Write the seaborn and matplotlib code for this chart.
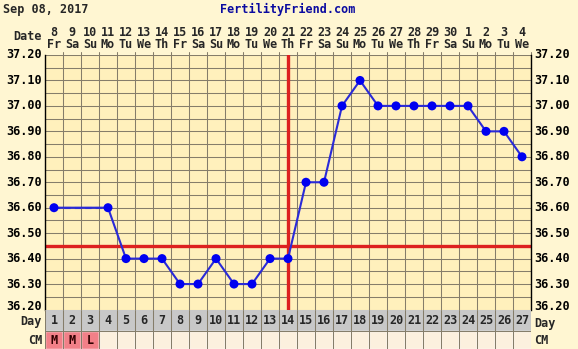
import numpy as np
import pandas as pd
import matplotlib
matplotlib.use("Agg")
import matplotlib.pyplot as plt
import seaborn as sns

# ---------------- data ----------------
cycle_days = list(range(1, 28))
dates = [8, 9, 10, 11, 12, 13, 14, 15, 16, 17, 18, 19, 20, 21, 22, 23, 24, 25, 26, 27, 28, 29, 30, 1, 2, 3, 4]
weekdays = ["Fr", "Sa", "Su", "Mo", "Tu", "We", "Th"] * 3 + ["Fr", "Sa", "Su", "Mo", "Tu", "We"]
temps = [36.60, np.nan, np.nan, 36.60, 36.40, 36.40, 36.40, 36.30, 36.30, 36.40,
         36.30, 36.30, 36.40, 36.40, 36.70, 36.70, 37.00, 37.10, 37.00, 37.00,
         37.00, 37.00, 37.00, 37.00, 36.90, 36.90, 36.80]
cm_labels = ["M", "M", "L"] + [""] * 24
coverline = 36.45
ovulation_day = 14
y_ticks = [36.20, 36.30, 36.40, 36.50, 36.60, 36.70, 36.80, 36.90, 37.00, 37.10, 37.20]
title_date = "Sep 08, 2017"
site = "FertilityFriend.com"

df = pd.DataFrame({"day": cycle_days, "temp": temps})

# ---------------- style ----------------
sns.set_theme(style="white")
plt.rcParams["font.family"] = ["DejaVu Sans Mono"]
FS = 8.5
BG = "#FFF6D2"
PLOT_BG = "#FFF0BC"
GRID = "#857D6A"
W, H = 578, 349

fig = plt.figure(figsize=(W / 100, H / 100), dpi=100)
fig.patch.set_facecolor(BG)

def px_ax(x0, y0, x1, y1):
    return fig.add_axes([x0 / W, 1 - y1 / H, (x1 - x0) / W, (y1 - y0) / H])

L, R, T, B = 45, 531, 55, 309.5
ax = px_ax(L, T, R, B)
ax.set_facecolor(PLOT_BG)
ax.set_xlim(0.5, 27.5)
ax.set_ylim(36.20, 37.20)

# grid
for k in range(28):
    ax.axvline(0.5 + k, color=GRID, lw=0.75, zorder=1)
for v in np.arange(36.20, 37.2001, 0.05):
    ax.axhline(v, color=GRID, lw=0.75, zorder=1)

# coverline and ovulation line
ax.axhline(coverline, color="#DD2020", lw=2.4, zorder=2)
ax.axvline(ovulation_day, color="#DD2020", lw=2.4, zorder=2)

# temperature line
sns.lineplot(data=df, x="day", y="temp", ax=ax, color="#2A2AD8", lw=1.5, zorder=3)
dashed = df.dropna().iloc[:2]
sns.lineplot(data=dashed, x="day", y="temp", ax=ax, color="#2A2AD8", lw=1.5,
             linestyle=(0, (3, 2)), zorder=3)
sns.scatterplot(data=df.dropna(), x="day", y="temp", ax=ax, color="#0000F0",
                s=42, edgecolor="none", zorder=4)

ax.set_xlabel("")
ax.set_ylabel("")
ax.set_xticks([])
ax.set_yticks([])
for s in ax.spines.values():
    s.set_visible(False)
for side in ("left", "right"):
    ax.spines[side].set_visible(True)
    ax.spines[side].set_color("black")
    ax.spines[side].set_linewidth(1.0)

# y labels on both sides
ytr = ax.get_yaxis_transform()
span = B - T
for v in y_ticks:
    off = 0.0
    if abs(v - 36.20) < 1e-6:
        off = 3.5 / span * 1.0  # nudge bottom label above the Day row
    yv = v + off * (37.20 - 36.20)
    ax.text(-0.006, yv, f"{v:.2f}", transform=ytr, ha="right",
            va="center", fontsize=FS, fontweight="bold", color="black")
    ax.text(1.006, yv, f"{v:.2f}", transform=ytr, ha="left",
            va="center", fontsize=FS, fontweight="bold", color="black")

# header rows (dates and weekdays)
xtr = ax.get_xaxis_transform()
for d, dt, wd in zip(cycle_days, dates, weekdays):
    ax.text(d, 1.0 + 22 / span, str(dt), transform=xtr,
            ha="center", va="center", fontsize=FS, fontweight="bold")
    ax.text(d, 1.0 + 10 / span, wd, transform=xtr,
            ha="center", va="center", fontsize=FS, fontweight="bold")
    ax.plot([d + 0.5, d + 0.5], [1.0, 1.0 + 3 / span], color=GRID, lw=0.75,
            transform=xtr, clip_on=False)
fig.text(42 / W, 1 - 37 / H, "Date", ha="right", va="center", fontsize=FS, fontweight="bold")
fig.text(3 / W, 1 - 9 / H, title_date, ha="left", va="center", fontsize=FS, fontweight="bold")
fig.text(288 / W, 1 - 9 / H, site, ha="center", va="center", fontsize=FS,
         fontweight="bold", color="#0A0AA0")

# bottom rows: Day and CM
ax2 = px_ax(L, B, R, H)
ax2.set_xlim(0.5, 27.5)
ax2.set_ylim(39.5, 0)
ax2.axis("off")
ax2.axhspan(0, 21.5, color="#C8C8C8", zorder=0)
cm_colors = ["#F28088" if c else "#FCF0DE" for c in cm_labels]
ax2.bar(cycle_days, [18] * 27, bottom=21.5, width=1.0, color=cm_colors, zorder=1)
for k in range(28):
    ax2.axvline(0.5 + k, color=GRID, lw=0.75, zorder=2)
ax2.axhline(21.5, color=GRID, lw=0.75, zorder=2)
for d, c in zip(cycle_days, cm_labels):
    ax2.text(d, 11.5, str(d), ha="center", va="center", fontsize=FS, fontweight="bold")
    if c:
        ax2.text(d, 30.5, c, ha="center", va="center", fontsize=FS, fontweight="bold",
                 color="#300000")
fig.text(42 / W, 1 - 322 / H, "Day", ha="right", va="center", fontsize=FS, fontweight="bold")
fig.text(42 / W, 1 - 340 / H, "CM", ha="right", va="center", fontsize=FS, fontweight="bold")
fig.text(534 / W, 1 - 323 / H, "Day", ha="left", va="center", fontsize=FS, fontweight="bold")
fig.text(534 / W, 1 - 341 / H, "CM", ha="left", va="center", fontsize=FS, fontweight="bold")

fig.savefig("out.png", dpi=100, facecolor=BG)
